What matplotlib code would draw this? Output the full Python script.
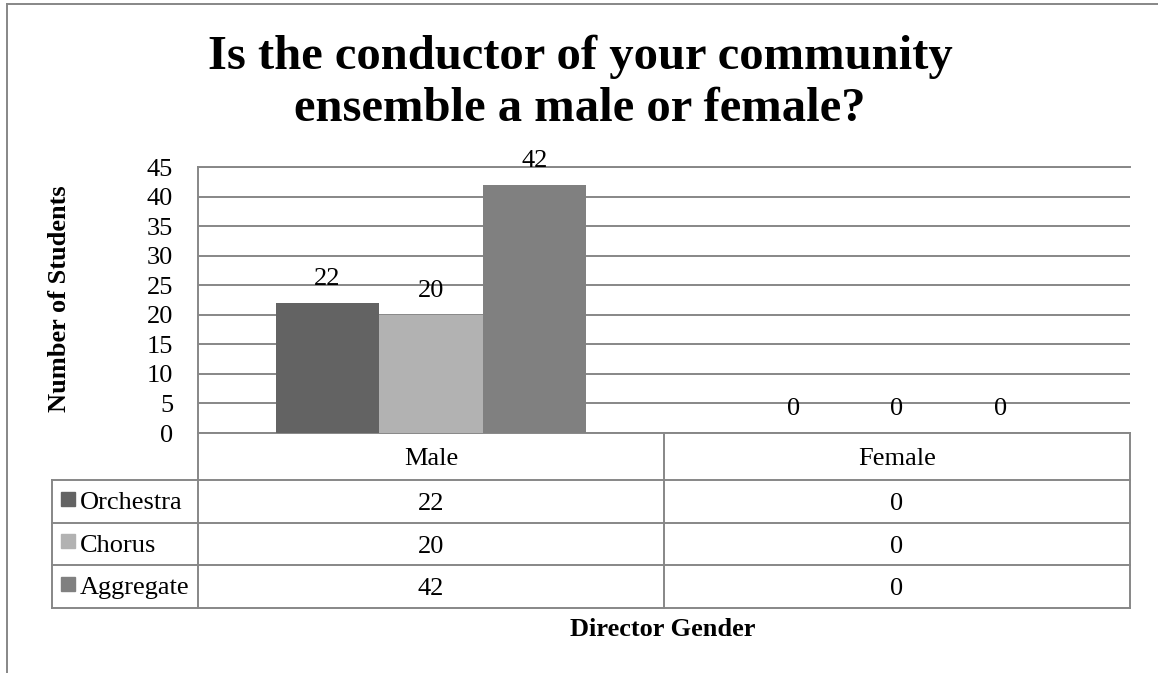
import matplotlib
matplotlib.use("Agg")
import matplotlib.pyplot as plt
from matplotlib.patches import Rectangle
import numpy as np

# ---- data ----
categories = ["Male", "Female"]
series_names = ["Orchestra", "Chorus", "Aggregate"]
orchestra = [22, 0]
chorus = [20, 0]
aggregate = [42, 0]
series_values = [orchestra, chorus, aggregate]
series_colors = ["#636363", "#b2b2b2", "#808080"]
y_ticks = [0, 5, 10, 15, 20, 25, 30, 35, 40, 45]
title = "Is the conductor of your community\nensemble a male or female?"
y_label = "Number of Students"
x_label = "Director Gender"

W, H = 1158, 673
plt.rcParams["font.family"] = ["Liberation Serif", "DejaVu Serif"]
fig = plt.figure(figsize=(W / 100, H / 100), dpi=100)

GRID = "#878787"
LW = 1.4
FS = 19

# overlay in pixel coordinates (top-left origin)
ov = fig.add_axes([0, 0, 1, 1])
ov.set_xlim(0, W)
ov.set_ylim(H, 0)
ov.axis("off")

# plot area
L, R, T, B = 198, 1130, 167, 433
ax = fig.add_axes([L / W, 1 - B / H, (R - L) / W, (B - T) / H])
ax.set_facecolor("none")
ax.set_xlim(-0.5, len(categories) - 0.5)
ax.set_ylim(0, 45)
ax.set_yticks(y_ticks)
ax.set_yticklabels([str(v) for v in y_ticks], fontsize=FS)
ax.tick_params(axis="y", length=0, pad=18)
ax.set_xticks([])
for s in ["right", "bottom"]:
    ax.spines[s].set_visible(False)
ax.spines["left"].set_color(GRID)
ax.spines["left"].set_linewidth(LW)
ax.spines["top"].set_color(GRID)
ax.spines["top"].set_linewidth(LW)
ax.yaxis.grid(True, color=GRID, linewidth=LW)
ax.set_axisbelow(True)

x = np.arange(len(categories))
bw = 1 / 4.5
for i, (vals, col) in enumerate(zip(series_values, series_colors)):
    xs = x + (i - 1) * bw
    ax.bar(xs, vals, width=bw, color=col, zorder=3)
    for xi, v in zip(xs, vals):
        ax.annotate(str(v), (xi, v), xytext=(0, 13), textcoords="offset points",
                    ha="center", va="baseline", fontsize=FS, zorder=4)

# title & axis labels
for line, base in zip(title.split("\n"), [69, 121]):
    ov.text(580, base, line, ha="center", va="baseline", fontsize=35,
            fontweight="bold")
ov.text(59, 299, y_label, rotation=90, ha="center", va="center",
        fontsize=19, fontweight="bold")
ov.text(663, 636, x_label, ha="center", va="baseline",
        fontsize=FS, fontweight="bold")

# outer frame
ov.plot([7, W], [4, 4], color=GRID, lw=LW)
ov.plot([7, 7], [4, H], color=GRID, lw=LW)

# data table
fig.canvas.draw()
def to_px(xd):
    return ax.transData.transform((xd, 0))[0]
bounds = [to_px(v) for v in np.arange(len(categories) + 1) - 0.5]
centers = [to_px(v) for v in x]
tl = 52
rows_y = [433, 480, 522.7, 565, 607.7]
ov.plot([bounds[0], bounds[-1]], [rows_y[0], rows_y[0]], color=GRID, lw=LW)
for yy in rows_y[1:]:
    ov.plot([tl, bounds[-1]], [yy, yy], color=GRID, lw=LW)
for bx in bounds:
    ov.plot([bx, bx], [rows_y[0], rows_y[-1]], color=GRID, lw=LW)
ov.plot([tl, tl], [rows_y[1], rows_y[-1]], color=GRID, lw=LW)

half_cap = 8.7
hc = (rows_y[0] + rows_y[1]) / 2
for cx, cat in zip(centers, categories):
    ov.text(cx, hc + half_cap, cat, ha="center", va="baseline", fontsize=FS)
for r, (name, vals, col) in enumerate(zip(series_names, series_values, series_colors)):
    rc = (rows_y[r + 1] + rows_y[r + 2]) / 2
    ov.add_patch(Rectangle((61, rc - 9.5), 14, 14, color=col))
    ov.text(80, rc + half_cap - 1, name, ha="left", va="baseline", fontsize=FS)
    for cx, v in zip(centers, vals):
        ov.text(cx, rc + half_cap, str(v), ha="center", va="baseline", fontsize=FS)

fig.savefig("out.png", dpi=100)
